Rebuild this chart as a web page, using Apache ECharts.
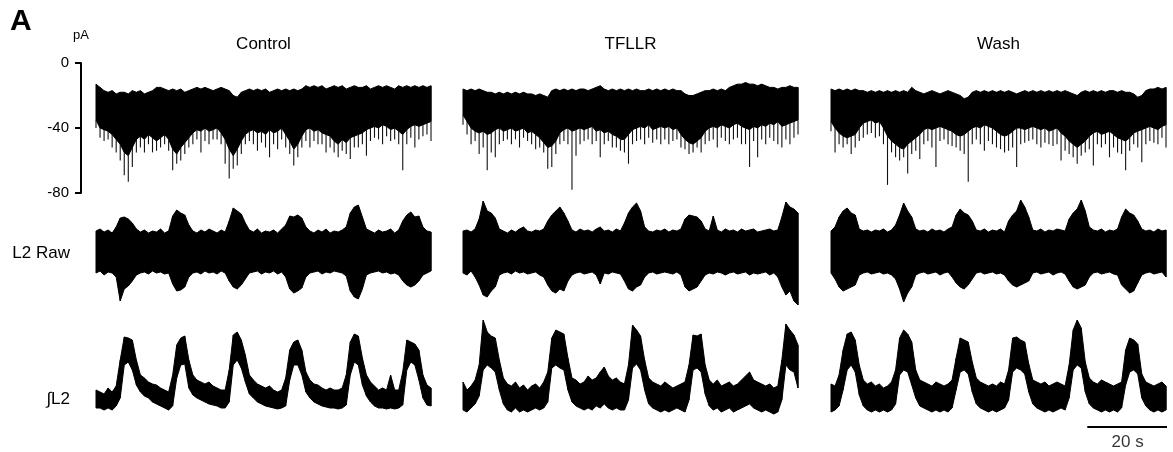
<!DOCTYPE html>
<html>
<head>
<meta charset="utf-8">
<script src="https://cdn.jsdelivr.net/npm/echarts@6/dist/echarts.min.js"></script>
<style>
  html, body { margin: 0; padding: 0; background: #fff; }
  #chart { width: 1173px; height: 452px; }
</style>
</head>
<body>
<div id="chart"></div>
<script>
// Panel titles and row labels
const conditions = ['Control', 'TFLLR', 'Wash'];
const rowLabels = ['L2 Raw', '\u222BL2'];
const panelLetter = 'A';
const currentUnit = 'pA';
const currentTicks = [0, -40, -80];
const scaleBarSeconds = 20;
const scaleBarLabel = '20 s';

// Whole-cell current (pA), one reading per second (84 s per sweep).
// top = upper edge of the noise band, core = lower edge of the dense band,
// tip = deepest inward current event within that second.
const controlCurrentTop = [
  -13,-15,-17,-18,-17,-19,-18,-18,-19,-17,
  -18,-17,-19,-18,-17,-15,-15,-16,-17,-16,
  -17,-16,-18,-17,-16,-15,-16,-15,-16,-17,
  -16,-15,-16,-17,-20,-21,-18,-17,-16,-17,
  -16,-17,-16,-18,-17,-16,-17,-16,-17,-16,
  -17,-16,-14,-15,-14,-15,-14,-16,-15,-14,
  -15,-14,-16,-15,-14,-15,-15,-14,-16,-15,
  -14,-15,-14,-15,-16,-14,-15,-14,-15,-14,
  -15,-14,-15,-14];
const controlCurrentCore = [
  -35,-40,-41,-42,-44,-47,-50,-55,-57,-52,
  -47,-45,-47,-44,-46,-48,-46,-44,-47,-53,
  -56,-52,-49,-46,-43,-41,-42,-40,-42,-41,
  -40,-43,-47,-53,-57,-53,-48,-44,-42,-41,
  -43,-42,-44,-41,-43,-42,-40,-44,-48,-53,
  -50,-45,-41,-40,-42,-41,-43,-44,-45,-48,
  -50,-47,-49,-46,-45,-44,-43,-41,-40,-39,
  -40,-38,-39,-41,-40,-42,-44,-41,-39,-38,
  -39,-38,-37,-36];
const controlCurrentTip = [
  -40,-46,-48,-47,-52,-55,-60,-69,-73,-64,
  -55,-52,-55,-50,-55,-54,-52,-50,-54,-66,
  -62,-60,-56,-52,-50,-47,-55,-48,-50,-47,
  -47,-50,-62,-71,-65,-63,-56,-50,-48,-50,
  -54,-49,-52,-58,-50,-53,-47,-52,-56,-63,
  -58,-52,-48,-52,-48,-50,-50,-55,-52,-55,
  -58,-54,-56,-59,-52,-52,-50,-57,-48,-46,
  -47,-50,-45,-48,-47,-50,-66,-50,-46,-52,
  -47,-45,-44,-48];

const tfllrCurrentTop = [
  -16,-17,-16,-17,-16,-17,-18,-18,-19,-18,
  -19,-18,-19,-18,-19,-18,-19,-19,-20,-19,
  -20,-21,-17,-16,-17,-16,-17,-16,-17,-16,
  -16,-17,-16,-15,-14,-16,-17,-16,-17,-16,
  -17,-16,-17,-16,-17,-17,-16,-17,-16,-17,
  -16,-17,-16,-17,-17,-19,-20,-20,-19,-18,
  -17,-17,-16,-17,-16,-17,-15,-14,-13,-13,
  -12,-13,-13,-14,-13,-14,-15,-15,-16,-15,
  -15,-14,-15,-15];
const tfllrCurrentCore = [
  -32,-36,-40,-42,-43,-42,-44,-43,-41,-40,
  -42,-41,-40,-42,-41,-40,-43,-42,-44,-46,
  -49,-52,-51,-48,-43,-41,-40,-42,-41,-40,
  -41,-40,-39,-42,-41,-43,-42,-44,-45,-47,
  -47,-44,-41,-40,-39,-40,-38,-41,-40,-39,
  -40,-39,-41,-40,-44,-47,-49,-50,-48,-46,
  -42,-40,-39,-40,-38,-39,-40,-38,-37,-39,
  -40,-41,-39,-40,-38,-39,-37,-38,-36,-39,
  -38,-37,-36,-35];
const tfllrCurrentTip = [
  -38,-44,-50,-48,-56,-52,-66,-55,-58,-50,
  -48,-47,-50,-47,-52,-46,-48,-50,-53,-52,
  -55,-65,-64,-56,-50,-48,-50,-78,-57,-50,
  -48,-47,-50,-48,-58,-50,-48,-52,-52,-54,
  -55,-62,-50,-48,-47,-50,-46,-49,-47,-50,
  -47,-50,-48,-47,-52,-53,-56,-55,-52,-55,
  -50,-48,-47,-52,-46,-48,-50,-47,-46,-50,
  -50,-64,-48,-58,-47,-50,-46,-48,-50,-52,
  -47,-50,-46,-44];

const washCurrentTop = [
  -16,-17,-16,-17,-16,-17,-16,-17,-17,-18,
  -17,-18,-17,-18,-17,-18,-17,-18,-17,-18,
  -15,-17,-18,-19,-18,-17,-18,-19,-18,-17,
  -18,-19,-20,-22,-21,-18,-17,-18,-17,-18,
  -17,-18,-17,-18,-17,-18,-19,-18,-17,-18,
  -17,-18,-17,-18,-17,-18,-17,-18,-17,-18,
  -19,-20,-18,-17,-18,-17,-18,-17,-18,-17,
  -17,-18,-17,-18,-18,-19,-21,-20,-17,-16,
  -16,-15,-16,-15];
const washCurrentCore = [
  -36,-40,-43,-45,-46,-45,-44,-40,-37,-36,
  -35,-37,-36,-40,-45,-48,-50,-52,-53,-50,
  -48,-46,-44,-41,-40,-41,-40,-39,-40,-41,
  -42,-44,-45,-44,-42,-40,-39,-40,-38,-39,
  -40,-42,-44,-45,-44,-42,-40,-40,-41,-40,
  -39,-40,-41,-40,-42,-41,-40,-43,-45,-48,
  -50,-52,-50,-48,-45,-43,-42,-44,-43,-42,
  -44,-46,-47,-48,-46,-43,-42,-41,-40,-39,
  -40,-41,-39,-38];
const washCurrentTip = [
  -42,-55,-50,-52,-50,-56,-52,-48,-46,-44,
  -43,-46,-45,-50,-75,-55,-58,-60,-58,-68,
  -56,-54,-59,-50,-48,-52,-64,-48,-47,-50,
  -51,-52,-54,-56,-73,-50,-47,-50,-54,-48,
  -50,-52,-53,-55,-54,-52,-64,-50,-49,-48,
  -47,-50,-52,-49,-50,-51,-50,-60,-54,-56,
  -58,-62,-57,-55,-53,-63,-50,-52,-50,-58,
  -52,-55,-56,-66,-54,-50,-52,-61,-50,-48,
  -49,-50,-46,-52];

// L2 ventral root, raw signal (arbitrary units), upper/lower excursion per second
const controlRawHi = [
  20,22,19,21,18,24,33,34,32,28,
  22,19,21,18,20,19,22,18,20,35,
  41,38,36,26,20,18,21,19,22,20,
  18,21,19,30,43,40,37,28,21,19,
  22,18,20,19,21,18,22,26,35,34,
  36,33,24,20,18,21,19,22,18,20,
  19,21,24,38,44,46,34,22,20,18,
  21,19,20,22,18,21,30,36,39,34,
  35,24,20,19];
const controlRawLo = [
  -22,-20,-24,-21,-22,-26,-50,-38,-35,-30,
  -24,-22,-21,-23,-20,-22,-21,-23,-22,-33,
  -40,-39,-36,-26,-22,-21,-23,-20,-22,-21,
  -23,-20,-22,-30,-36,-38,-34,-28,-22,-21,
  -20,-23,-21,-22,-20,-23,-21,-26,-38,-42,
  -40,-37,-26,-22,-21,-20,-23,-21,-22,-20,
  -21,-22,-25,-40,-46,-48,-38,-24,-22,-21,
  -20,-22,-21,-23,-22,-24,-30,-34,-36,-34,
  -30,-24,-22,-20];

const tfllrRawHi = [
  20,21,19,22,32,50,40,38,33,22,
  20,18,21,19,22,24,20,19,21,20,
  22,30,36,40,44,38,30,21,19,22,
  20,21,19,22,24,20,21,19,22,20,
  28,38,44,48,40,24,20,19,21,20,
  22,19,21,20,22,32,36,35,34,30,
  22,20,35,21,19,22,20,21,19,22,
  20,21,22,19,20,21,22,20,21,34,
  49,44,42,38];
const tfllrRawLo = [
  -22,-24,-20,-26,-34,-44,-46,-40,-36,-24,
  -22,-21,-23,-20,-22,-21,-23,-22,-21,-24,
  -26,-34,-40,-42,-38,-40,-30,-24,-22,-21,
  -23,-22,-21,-24,-33,-22,-23,-21,-22,-23,
  -30,-38,-40,-36,-34,-26,-22,-21,-23,-22,
  -21,-22,-23,-21,-24,-36,-40,-38,-36,-30,
  -24,-22,-23,-21,-22,-24,-22,-21,-23,-22,
  -21,-24,-22,-23,-22,-21,-24,-22,-26,-36,
  -44,-40,-50,-54];

const washRawHi = [
  20,24,34,40,43,38,36,22,20,21,
  19,21,20,22,19,21,26,36,48,40,
  34,22,20,21,19,22,20,21,19,22,
  24,36,42,38,36,30,21,20,22,19,
  21,20,22,19,30,36,40,51,44,34,
  21,20,22,19,21,20,22,21,20,32,
  38,42,51,40,24,21,20,22,19,21,
  20,22,34,42,38,36,30,22,20,21,
  19,22,20,21];
const washRawLo = [
  -22,-28,-36,-40,-38,-36,-34,-24,-22,-21,
  -23,-22,-21,-23,-22,-24,-28,-38,-51,-42,
  -36,-24,-22,-21,-23,-22,-21,-24,-22,-21,
  -26,-32,-36,-38,-34,-28,-22,-21,-23,-22,
  -21,-23,-22,-24,-30,-34,-36,-34,-32,-30,
  -22,-21,-23,-22,-21,-24,-22,-21,-23,-30,
  -36,-38,-36,-34,-26,-22,-21,-23,-22,-21,
  -23,-24,-34,-38,-42,-40,-32,-24,-22,-21,
  -23,-22,-21,-26];

// Integrated L2 activity (arbitrary units), upper/lower excursion per second
const controlIntHi = [
  30,28,26,32,28,34,60,83,82,80,
  60,45,42,38,36,35,32,30,28,45,
  75,82,84,60,45,40,38,36,38,34,
  32,30,30,50,85,88,80,65,45,40,
  36,34,32,34,30,28,30,42,70,78,
  80,70,48,40,36,35,32,30,32,30,
  30,32,45,78,86,84,62,45,38,34,
  30,32,30,45,30,30,48,80,78,76,
  70,45,35,32];
const controlIntLo = [
  12,12,10,12,10,14,22,55,58,50,
  35,28,24,22,18,16,14,12,10,14,
  42,55,56,32,25,22,20,18,16,15,
  14,12,12,18,55,60,52,38,26,22,
  18,16,14,13,12,11,12,14,40,55,
  55,45,28,22,18,16,14,13,12,12,
  11,12,15,45,58,55,35,24,18,14,
  12,12,11,12,11,12,15,50,58,55,
  40,22,15,14];

const tfllrIntHi = [
  38,30,34,40,55,100,88,84,82,60,
  42,36,34,38,32,35,30,34,36,32,
  38,48,82,90,88,86,62,42,40,36,
  38,44,40,42,48,53,44,40,42,38,
  36,55,95,90,84,60,42,38,36,34,
  38,35,32,34,36,38,55,85,84,86,
  55,40,36,40,34,36,38,34,36,40,
  44,48,40,38,36,34,36,32,34,60,
  96,90,85,75];
const tfllrIntLo = [
  10,8,12,16,24,50,55,52,48,30,
  16,10,8,12,8,10,8,10,12,10,
  12,18,52,55,52,50,30,18,14,12,
  10,12,10,14,12,16,12,10,12,10,
  10,20,52,56,50,30,16,12,10,8,
  10,8,10,12,10,8,20,50,52,48,
  26,14,10,12,8,10,12,8,10,12,
  14,16,12,10,8,10,8,6,8,20,
  55,50,48,32];

const washIntHi = [
  36,34,45,70,86,88,80,55,40,36,
  38,34,36,32,34,38,50,82,90,86,
  78,50,40,38,36,34,38,36,34,36,
  40,62,82,80,78,58,42,38,36,34,
  36,34,38,36,50,82,83,80,78,56,
  40,38,36,38,34,36,38,36,34,55,
  90,100,92,58,42,38,36,40,38,36,
  34,36,38,70,82,80,76,46,38,36,
  34,36,38,34];
const washIntLo = [
  8,10,14,30,50,55,48,25,14,10,
  8,10,8,10,8,10,16,45,50,48,
  35,22,14,12,10,8,10,8,10,8,
  12,30,48,50,46,28,16,12,10,8,
  10,8,10,12,20,48,52,50,46,28,
  16,12,10,8,10,8,10,12,10,22,
  50,55,52,28,16,12,10,8,10,8,
  10,8,12,35,48,50,46,22,14,10,
  8,10,8,10];

// ---------------------------------------------------------------
const currentRows = [
  [controlCurrentTop, controlCurrentCore, controlCurrentTip],
  [tfllrCurrentTop, tfllrCurrentCore, tfllrCurrentTip],
  [washCurrentTop, washCurrentCore, washCurrentTip]
];
const rawRows = [[controlRawHi, controlRawLo], [tfllrRawHi, tfllrRawLo], [washRawHi, washRawLo]];
const intRows = [[controlIntHi, controlIntLo], [tfllrIntHi, tfllrIntLo], [washIntHi, washIntLo]];

const FONT = '"Liberation Sans", Arial, Helvetica, sans-serif';
const colLeft = [96, 463, 831];
const colWidth = 335;
const rowLayout = [
  { top: 63, height: 130, min: -80, max: 0 },
  { top: 196, height: 110, min: -55, max: 55 },
  { top: 310, height: 110, min: 0, max: 110 }
];
const sweepEnd = controlCurrentTop.length - 1;

// A filled envelope: one closed polygon running along the upper edge
// and back along the lower edge; each second also gets a thin stroke.
function envelopeSeries(upper, lower, g) {
  return {
    type: 'custom', xAxisIndex: g, yAxisIndex: g, silent: true,
    encode: { x: 0, y: [1, 2] },
    data: upper.map((u, i) => [i, u, lower[i]]),
    renderItem: function (params, api) {
      if (params.dataIndex !== 0) {
        const a = api.coord([api.value(0), api.value(1)]);
        const b = api.coord([api.value(0), api.value(2)]);
        return { type: 'line', shape: { x1: a[0], y1: a[1], x2: b[0], y2: b[1] },
          style: { stroke: '#000', lineWidth: 1 } };
      }
      const pts = upper.map((u, i) => api.coord([i, u]))
        .concat(lower.map((l, i) => api.coord([i, l])).reverse());
      return { type: 'polygon', shape: { points: pts },
        style: { fill: '#000', stroke: '#000', lineWidth: 1, lineJoin: 'miter' } };
    }
  };
}
function renderTip(params, api) {
  const a = api.coord([api.value(0), api.value(1)]);
  const b = api.coord([api.value(0), api.value(2)]);
  return {
    type: 'line',
    shape: { x1: a[0], y1: a[1], x2: b[0], y2: b[1] },
    style: { stroke: '#111', lineWidth: 1.1 }
  };
}

const grids = [], xAxes = [], yAxes = [], series = [];
rowLayout.forEach((row, r) => {
  colLeft.forEach((left, c) => {
    const g = r * 3 + c;
    grids.push({ left: left, width: colWidth, top: row.top, height: row.height });
    xAxes.push({ gridIndex: g, type: 'value', min: 0, max: sweepEnd, show: false });
    const y = { gridIndex: g, type: 'value', min: row.min, max: row.max, show: false };
    if (g === 0) {
      Object.assign(y, {
        show: true, interval: 40, offset: 15,
        name: currentUnit, nameLocation: 'end', nameGap: 21,
        nameTextStyle: { fontFamily: FONT, fontSize: 13, color: '#000', align: 'center' },
        axisLine: { show: true, onZero: false, lineStyle: { color: '#000', width: 2 } },
        axisTick: { show: true, length: 6, lineStyle: { color: '#000', width: 2 } },
        axisLabel: { margin: 12, fontFamily: FONT, fontSize: 15, color: '#000',
          customValues: currentTicks },
        splitLine: { show: false }
      });
    }
    yAxes.push(y);
  });
});

// Row 1: whole-cell current
currentRows.forEach(([top, core, tip], c) => {
  series.push({
    type: 'custom', xAxisIndex: c, yAxisIndex: c, silent: true,
    renderItem: renderTip, encode: { x: 0, y: [1, 2] },
    data: core.map((v, i) => [i, v, tip[i]])
  });
  series.push(envelopeSeries(top, core, c));
});
// Row 2: raw L2 nerve activity
rawRows.forEach(([hi, lo], c) => series.push(envelopeSeries(hi, lo, 3 + c)));
// Row 3: integrated L2 activity
intRows.forEach(([hi, lo], c) => series.push(envelopeSeries(hi, lo, 6 + c)));

// Time scale bar under the last sweep
const barEnd = sweepEnd + 0.5;
series.push({
  type: 'line', xAxisIndex: 8, yAxisIndex: 8, silent: true, clip: false,
  symbol: 'none', lineStyle: { color: '#000', width: 2 },
  data: [[barEnd - scaleBarSeconds, -7], [barEnd, -7]]
});
series.push({
  type: 'scatter', xAxisIndex: 8, yAxisIndex: 8, silent: true, clip: false,
  symbolSize: 1, itemStyle: { color: 'transparent' },
  label: { show: true, position: 'inside', formatter: scaleBarLabel,
    fontFamily: FONT, fontSize: 17, color: '#000' },
  data: [[barEnd - scaleBarSeconds / 2, -22]]
});

const titles = [
  { text: panelLetter, left: 10, top: 7, padding: 0,
    textStyle: { fontFamily: FONT, fontSize: 30, fontWeight: 'bold', color: '#000' } }
];
conditions.forEach((name, c) => {
  titles.push({ text: name, left: colLeft[c] + colWidth / 2, top: 36, padding: 0, textAlign: 'center',
    textStyle: { fontFamily: FONT, fontSize: 17, fontWeight: 'normal', color: '#000' } });
});
titles.push({ text: rowLabels[0], left: 70, top: 245, padding: 0, textAlign: 'right',
  textStyle: { fontFamily: FONT, fontSize: 17, fontWeight: 'normal', color: '#000' } });
titles.push({ text: rowLabels[1], left: 70, top: 391, padding: 0, textAlign: 'right',
  textStyle: { fontFamily: FONT, fontSize: 17, fontWeight: 'normal', color: '#000' } });

const chart = echarts.init(document.getElementById('chart'), null, { renderer: 'canvas' });
chart.setOption({
  animation: false,
  backgroundColor: '#fff',
  title: titles,
  grid: grids,
  xAxis: xAxes,
  yAxis: yAxes,
  series: series
});
</script>
</body>
</html>
